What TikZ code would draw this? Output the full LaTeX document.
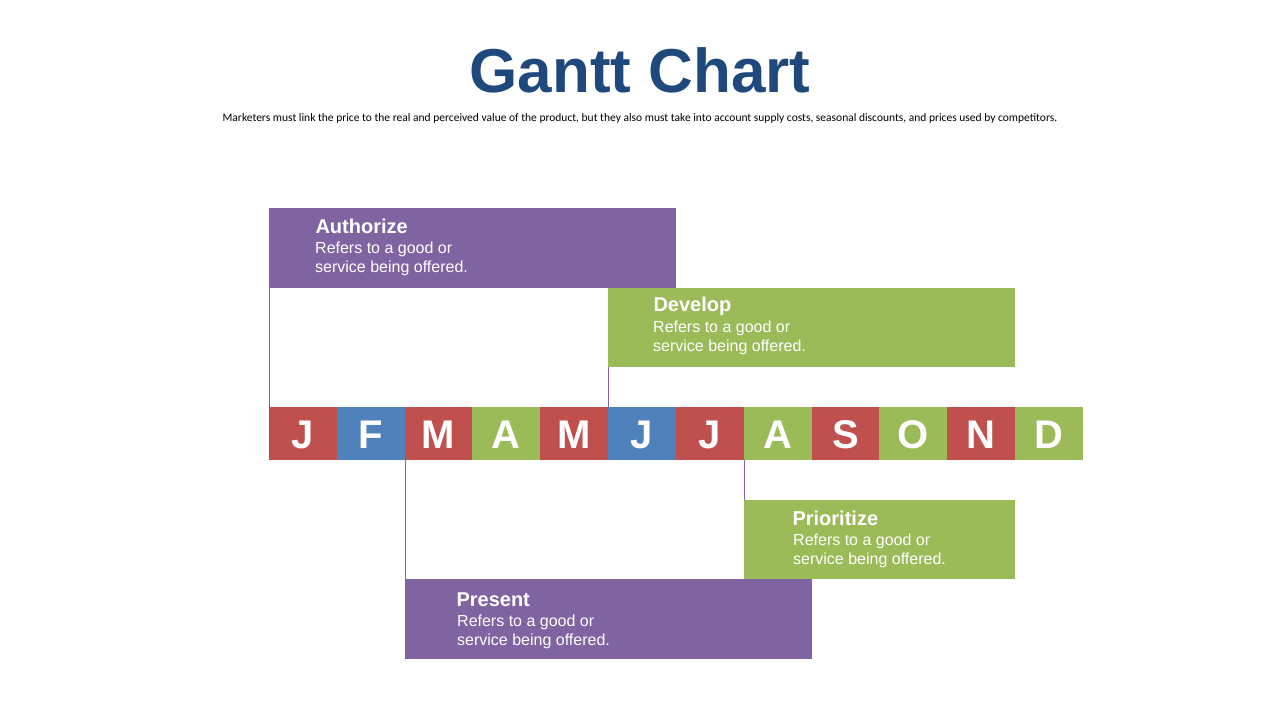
\documentclass[tikz,border=0pt]{standalone}
\usepackage{fontspec}
\setmainfont{Liberation Sans}
\newfontfamily\calib{Carlito}
\begin{document}
\begin{tikzpicture}[x=1pt,y=-1pt,
  mon/.style={anchor=center,text=white,font=\fontsize{40}{40}\selectfont\bfseries},
  ttl/.style={anchor=west,text=white,font=\fontsize{20}{22}\selectfont\bfseries},
  bdy/.style={anchor=north west,text=white,align=left,inner sep=0pt,font=\fontsize{16}{19}\selectfont},
  conn/.style={draw=myp,line width=0.8pt}]
\definecolor{myr}{HTML}{C0504D}
\definecolor{myb}{HTML}{4F81BD}
\definecolor{myg}{HTML}{9BBB59}
\definecolor{myp}{HTML}{8064A2}
\definecolor{tc}{HTML}{1F497D}
\useasboundingbox (0,0) rectangle (1280,720);
\node[text=tc,font=\fontsize{62}{62}\selectfont\bfseries] (title) at (640,70) {Gantt Chart};
\node[font=\calib\fontsize{11.5}{13}\selectfont] (sub) at (640,118) {Marketers must link the price to the real and perceived value of the product, but they also must take into account supply costs, seasonal discounts, and prices used by competitors.};
\foreach \l/\c [count=\i from 0] in {J/myr,F/myb,M/myr,A/myg,M/myr,J/myb,J/myr,A/myg,S/myr,O/myg,N/myr,D/myg}{
  \fill[\c] (269+\i*67.83,407) rectangle (269+\i*67.83+67.9,460);
  \node[mon] (m\i) at (269+\i*67.83+33.9,434.5) {\l};
}
% bars
\fill[myp] (269,208) rectangle (676,288);
\fill[myg] (608,288) rectangle (1015,367);
\fill[myg] (744,500) rectangle (1015,579);
\fill[myp] (405,579) rectangle (812,659);
\coordinate (a) at (269.4,288); \coordinate (a2) at (269.4,407);
\coordinate (d) at (608.4,367); \coordinate (d2) at (608.4,407);
\coordinate (p) at (405.4,460); \coordinate (p2) at (405.4,579);
\coordinate (r) at (744.4,460); \coordinate (r2) at (744.4,500);
\draw[conn] (a)--(a2); \draw[conn] (d)--(d2); \draw[conn] (p)--(p2); \draw[conn] (r)--(r2);
\node[ttl] (t1) at (312,226) {Authorize};
\node[bdy] (b1) at (315,242) {Refers to a good or\\service being offered.};
\node[ttl] (t2) at (650,306) {Develop};
\node[bdy] (b2) at (653,321) {Refers to a good or\\service being offered.};
\node[ttl] (t3) at (789,518) {Prioritize};
\node[bdy] (b3) at (793,534) {Refers to a good or\\service being offered.};
\node[ttl] (t4) at (453,600) {Present};
\node[bdy] (b4) at (457,615) {Refers to a good or\\service being offered.};
\end{tikzpicture}
\end{document}
